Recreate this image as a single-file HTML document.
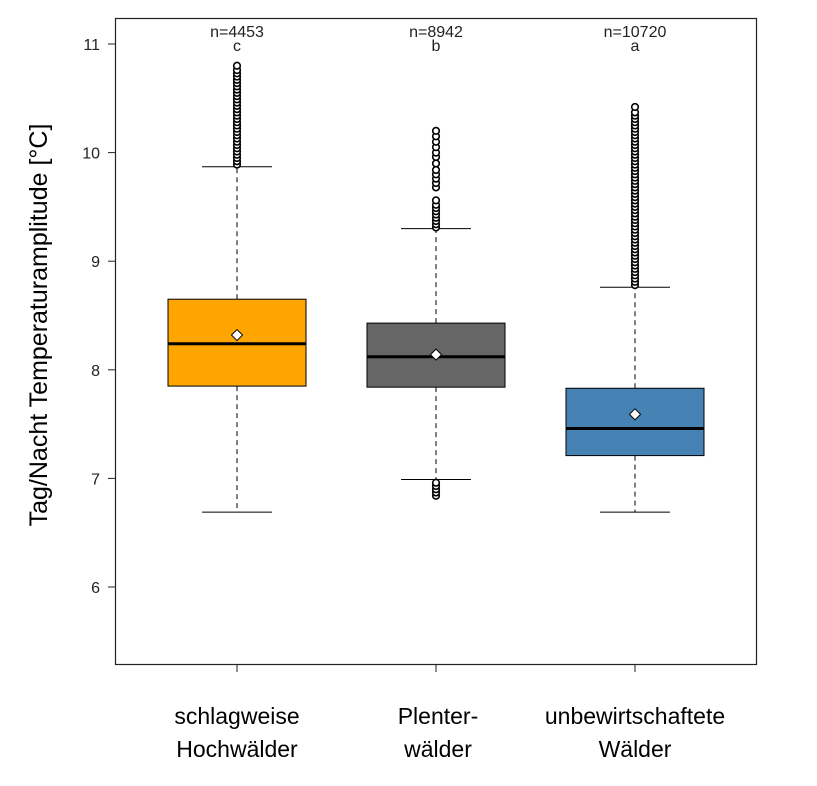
<!DOCTYPE html>
<html><head><meta charset="utf-8"><style>
html,body{margin:0;padding:0;background:#fff;}
svg{display:block;font-family:"Liberation Sans",Arial,sans-serif;}
</style></head><body>
<svg id="chart" width="817" height="786" viewBox="0 0 817 786">
<rect x="0" y="0" width="817" height="786" fill="#fff"/>
<rect x="115.5" y="18.5" width="641" height="646" fill="none" stroke="#222" stroke-width="1.2"/>
<g id="yaxis"></g>
<g id="boxes"></g>
<text x="0" y="0" transform="translate(47,325) rotate(-90)" text-anchor="middle" font-size="25" fill="#000">Tag/Nacht Temperaturamplitude [°C]</text>
<g id="xlabels"></g>
</svg>
<script>
const categories=[["schlagweise","Hochwälder"],["Plenter-","wälder"],["unbewirtschaftete","Wälder"]];
const nLabels=["n=4453","n=8942","n=10720"];
const letters=["c","b","a"];
const colors=["#FFA500","#666666","#4682B4"];
const q1=[7.85,7.84,7.21];
const medians=[8.24,8.12,7.46];
const q3=[8.65,8.43,7.83];
const means=[8.32,8.14,7.59];
const whiskLow=[6.69,6.99,6.69];
const whiskHigh=[9.87,9.30,8.76];
const outliers=[
[9.89,9.92,9.95,9.98,10.01,10.04,10.07,10.10,10.13,10.16,10.19,10.22,10.25,10.28,10.31,10.34,10.37,10.40,10.43,10.46,10.49,10.52,10.55,10.58,10.61,10.64,10.67,10.70,10.73,10.76,10.80],
[9.31,9.34,9.37,9.40,9.43,9.46,9.49,9.52,9.56,9.68,9.72,9.76,9.80,9.84,9.90,9.96,10.00,10.05,10.10,10.15,10.20,6.84,6.87,6.90,6.93,6.96],
[8.78,8.81,8.84,8.87,8.90,8.93,8.96,8.99,9.02,9.05,9.08,9.11,9.14,9.17,9.20,9.23,9.26,9.29,9.32,9.35,9.38,9.41,9.44,9.47,9.50,9.53,9.56,9.59,9.62,9.65,9.68,9.71,9.74,9.77,9.80,9.83,9.86,9.89,9.92,9.95,9.98,10.01,10.04,10.07,10.10,10.13,10.16,10.19,10.22,10.25,10.28,10.31,10.34,10.37,10.42]
];
const yTicks=[6,7,8,9,10,11];
const NS="http://www.w3.org/2000/svg";
function y(v){return 44+(11-v)*108.6;}
function xc(i){return 237+i*199;}
const HW=69;
function mk(tag,attrs,parent){const e=document.createElementNS(NS,tag);for(const k in attrs)e.setAttribute(k,attrs[k]);parent.appendChild(e);return e;}
const ya=document.getElementById('yaxis');
yTicks.forEach(t=>{
  const l=mk('line',{x1:108,x2:115,y1:y(t),y2:y(t),stroke:'#222'},ya);
  
  
  const tx=mk('text',{x:100,y:y(t)+6,'text-anchor':'end','font-size':'16',fill:'#222'},ya);
  tx.textContent=t;
  
  
});
const bx=document.getElementById('boxes');
const xl=document.getElementById('xlabels');
categories.forEach((c,i)=>{
  const g=mk('g',{},bx);
  
  
  const cx=xc(i);
  const w1=mk('line',{x1:cx,x2:cx,y1:y(q1[i]),y2:y(whiskLow[i]),stroke:'#000','stroke-dasharray':'5,4'},g);
  
  
  const w2=mk('line',{x1:cx,x2:cx,y1:y(q3[i]),y2:y(whiskHigh[i]),stroke:'#000','stroke-dasharray':'5,4'},g);
  
  
  const c1=mk('line',{x1:cx-35,x2:cx+35,y1:y(whiskLow[i]),y2:y(whiskLow[i]),stroke:'#000'},g);
  
  
  const c2=mk('line',{x1:cx-35,x2:cx+35,y1:y(whiskHigh[i]),y2:y(whiskHigh[i]),stroke:'#000'},g);
  
  
  outliers[i].forEach(v=>{
    const o=mk('circle',{cx:cx,cy:y(v),r:3.3,fill:'#fff',stroke:'#000','stroke-width':1.6},g);
    
    
  });
  const r=mk('rect',{x:cx-HW,y:y(q3[i]),width:HW*2,height:y(q1[i])-y(q3[i]),fill:colors[i],stroke:'#000','stroke-width':1},g);
  
  
  const m=mk('line',{x1:cx-HW,x2:cx+HW,y1:y(medians[i]),y2:y(medians[i]),stroke:'#000','stroke-width':3},g);
  
  
  const my=y(means[i]);
  const d=mk('polygon',{points:`${cx},${my-5.5} ${cx+5.5},${my} ${cx},${my+5.5} ${cx-5.5},${my}`,fill:'#fff',stroke:'#000','stroke-width':1},g);
  
  
  const n=mk('text',{x:cx,y:37,'text-anchor':'middle','font-size':'16',fill:'#222'},g);
  n.textContent=nLabels[i];
  
  
  const le=mk('text',{x:cx,y:51,'text-anchor':'middle','font-size':'16',fill:'#222'},g);
  le.textContent=letters[i];
  
  
  const tk=mk('line',{x1:cx,x2:cx,y1:664,y2:672,stroke:'#222'},xl);
  
  
  c.forEach((s,j)=>{
    const t=mk('text',{x:cx+(i==1?2:0),y:724+j*33,'text-anchor':'middle','font-size':'23',fill:'#000'},xl);
    t.textContent=s;
    
    
  });
});
</script>
</body></html>
